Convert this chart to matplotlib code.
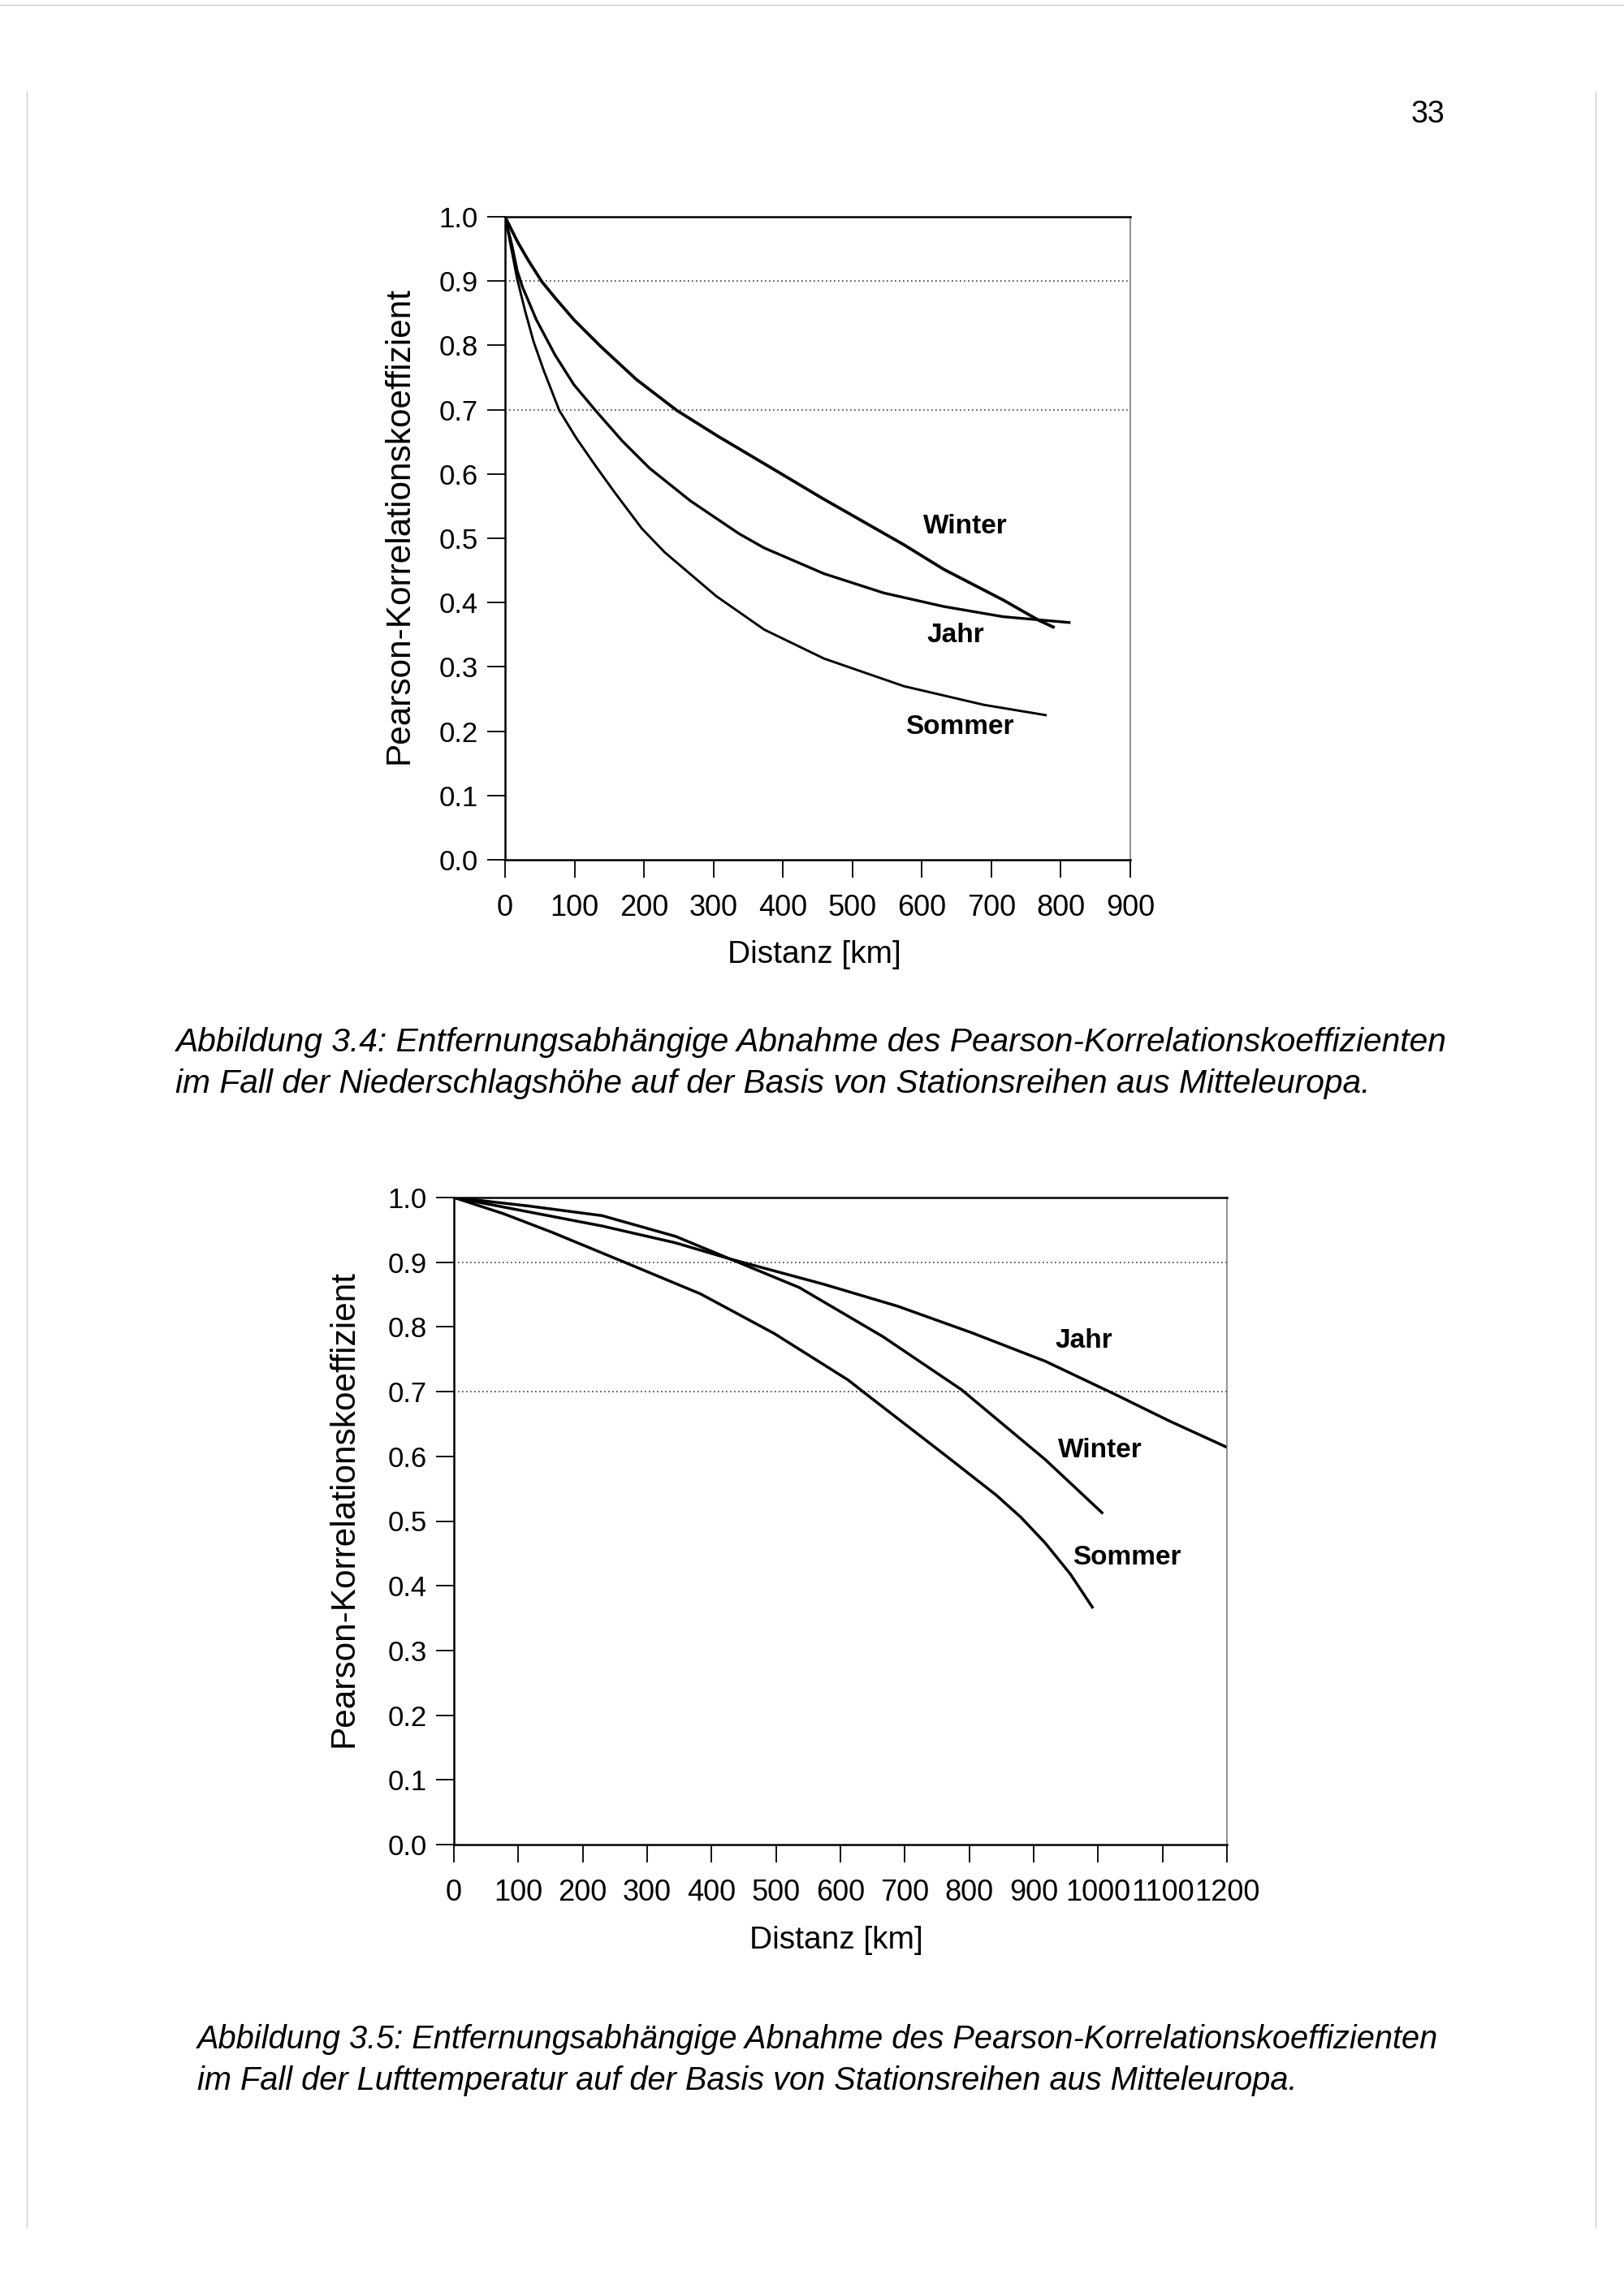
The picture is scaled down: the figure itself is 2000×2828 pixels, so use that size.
import matplotlib
matplotlib.use("Agg")
import matplotlib.pyplot as plt
from matplotlib.lines import Line2D
from matplotlib.ticker import FormatStrFormatter

plt.rcParams['font.family'] = ['Liberation Sans', 'DejaVu Sans']

# Abb. 3.4 - Niederschlagshoehe (Distanz in km, Pearson r)
winter1_km = [0, 17.5, 33, 53, 72, 99, 138, 189, 247, 306, 384, 457, 574, 631, 717, 769, 789]
winter1_r = [1.0, 0.962, 0.933, 0.899, 0.874, 0.84, 0.798, 0.747, 0.699, 0.659, 0.609, 0.562,
             0.49, 0.452, 0.404, 0.372, 0.362]
jahr1_km = [0, 10, 17.5, 25, 45, 72, 99, 130, 169, 208, 267, 337, 373, 459, 545, 631, 717, 812]
jahr1_r = [1.0, 0.955, 0.916, 0.891, 0.84, 0.785, 0.739, 0.699, 0.651, 0.609, 0.558, 0.507,
           0.485, 0.445, 0.415, 0.394, 0.378, 0.369]
sommer1_km = [0, 10, 17.5, 29, 41, 56, 78, 103, 130, 158, 197, 230, 304, 373, 459, 574, 689, 778]
sommer1_r = [1.0, 0.945, 0.903, 0.853, 0.806, 0.76, 0.699, 0.655, 0.613, 0.571, 0.515, 0.478,
             0.41, 0.358, 0.313, 0.27, 0.241, 0.225]

# Abb. 3.5 - Lufttemperatur
jahr2_km = [0, 115, 230, 344, 429, 574, 689, 804, 918, 1026, 1110, 1200]
jahr2_r = [1.0, 0.978, 0.956, 0.93, 0.905, 0.866, 0.832, 0.791, 0.747, 0.696, 0.655, 0.614]
winter2_km = [0, 115, 230, 344, 429, 536, 666, 788, 918, 1006]
winter2_r = [1.0, 0.987, 0.972, 0.94, 0.905, 0.861, 0.785, 0.703, 0.595, 0.513]
sommer2_km = [0, 77, 153, 260, 383, 497, 612, 635, 765, 842, 880, 918, 957, 991]
sommer2_r = [1.0, 0.975, 0.946, 0.902, 0.851, 0.79, 0.718, 0.70, 0.60, 0.54, 0.506, 0.466,
             0.418, 0.367]

y_ticks = [0.0, 0.1, 0.2, 0.3, 0.4, 0.5, 0.6, 0.7, 0.8, 0.9, 1.0]
grid_levels = [0.9, 0.7]
x_ticks1 = list(range(0, 1000, 100))
x_ticks2 = list(range(0, 1300, 100))

ylab = "Pearson-Korrelationskoeffizient"
xlab = "Distanz [km]"
caption1 = ["Abbildung 3.4: Entfernungsabhängige Abnahme des Pearson-Korrelationskoeffizienten",
            "im Fall der Niederschlagshöhe auf der Basis von Stationsreihen aus Mitteleuropa."]
caption2 = ["Abbildung 3.5: Entfernungsabhängige Abnahme des Pearson-Korrelationskoeffizienten",
            "im Fall der Lufttemperatur auf der Basis von Stationsreihen aus Mitteleuropa."]

W, H = 2000, 2828
fig = plt.figure(figsize=(W / 100, H / 100), dpi=100)
fig.patch.set_facecolor("white")


def px_axes(left, top, right, bottom):
    return fig.add_axes([left / W, 1 - bottom / H, (right - left) / W, (bottom - top) / H])


def setup(ax, xticks, ylab_x, xlab_y):
    ax.set_xlim(xticks[0], xticks[-1])
    ax.set_ylim(0, 1)
    ax.set_xticks(xticks)
    ax.set_yticks(y_ticks)
    ax.yaxis.set_major_formatter(FormatStrFormatter("%.1f"))
    ax.tick_params(axis="y", direction="out", length=16, width=1.3, pad=8, labelsize=25)
    ax.tick_params(axis="x", direction="out", length=16, width=1.3, pad=14, labelsize=24)
    for lab in ax.get_xticklabels():
        lab.set_family(["Liberation Sans Narrow", "Liberation Sans"])
        lab.set_fontsize(26)
    for g in grid_levels:
        ax.axhline(g, color="0.25", lw=1.2, ls=(0, (1, 2)))
    for s in ["left", "bottom", "top"]:
        ax.spines[s].set_linewidth(1.8)
    ax.spines["right"].set_linewidth(1.1)
    ax.spines["right"].set_color("0.45")
    ax.set_ylabel(ylab, fontsize=30.5)
    ax.set_xlabel(xlab, fontsize=28)
    ax.yaxis.set_label_coords(ylab_x, 0.52)
    ax.yaxis.label.set_va("center")
    ax.xaxis.set_label_coords(0.495, xlab_y)
    ax.xaxis.label.set_va("center")


# oberes Diagramm
ax1 = px_axes(622, 267, 1392, 1059)
setup(ax1, x_ticks1, -0.169, -0.148)
ax1.plot(winter1_km, winter1_r, color="black", lw=2.7)
ax1.plot(jahr1_km, jahr1_r, color="black", lw=2.4)
ax1.plot(sommer1_km, sommer1_r, color="black", lw=2.1)
ax1.text(663, 0.518, "Winter", fontsize=24, fontweight="bold", ha="center", va="center")
ax1.text(649, 0.349, "Jahr", fontsize=24, fontweight="bold", ha="center", va="center")
ax1.text(654, 0.206, "Sommer", fontsize=24, fontweight="bold", ha="center", va="center")

# unteres Diagramm
ax2 = px_axes(559, 1475, 1511, 2272)
setup(ax2, x_ticks2, -0.142, -0.148)
ax2.plot(jahr2_km, jahr2_r, color="black", lw=2.5)
ax2.plot(winter2_km, winter2_r, color="black", lw=2.5)
ax2.plot(sommer2_km, sommer2_r, color="black", lw=2.5)
ax2.text(978, 0.778, "Jahr", fontsize=24, fontweight="bold", ha="center", va="center")
ax2.text(1003, 0.609, "Winter", fontsize=24, fontweight="bold", ha="center", va="center")
ax2.text(1045, 0.444, "Sommer", fontsize=24, fontweight="bold", ha="center", va="center")

# Bildunterschriften
for i, line in enumerate(caption1):
    fig.text(216 / W, 1 - (1284 + 51 * i) / H, line, fontsize=29.3, style="italic",
             ha="left", va="center")
for i, line in enumerate(caption2):
    fig.text(243 / W, 1 - (2512 + 51 * i) / H, line, fontsize=28.6, style="italic",
             ha="left", va="center")

# Seitenzahl
fig.text(1758 / W, 1 - 141 / H, "33", fontsize=27, ha="center", va="center")

# Scan-Raender
fig.add_artist(Line2D([33 / W, 33 / W], [0.03, 0.96], color="0.8", lw=1))
fig.add_artist(Line2D([1965 / W, 1965 / W], [0.03, 0.96], color="0.8", lw=1))
fig.add_artist(Line2D([0.0, 1.0], [0.998, 0.998], color="0.8", lw=1))

fig.savefig("out.png", dpi=100, facecolor="white")
